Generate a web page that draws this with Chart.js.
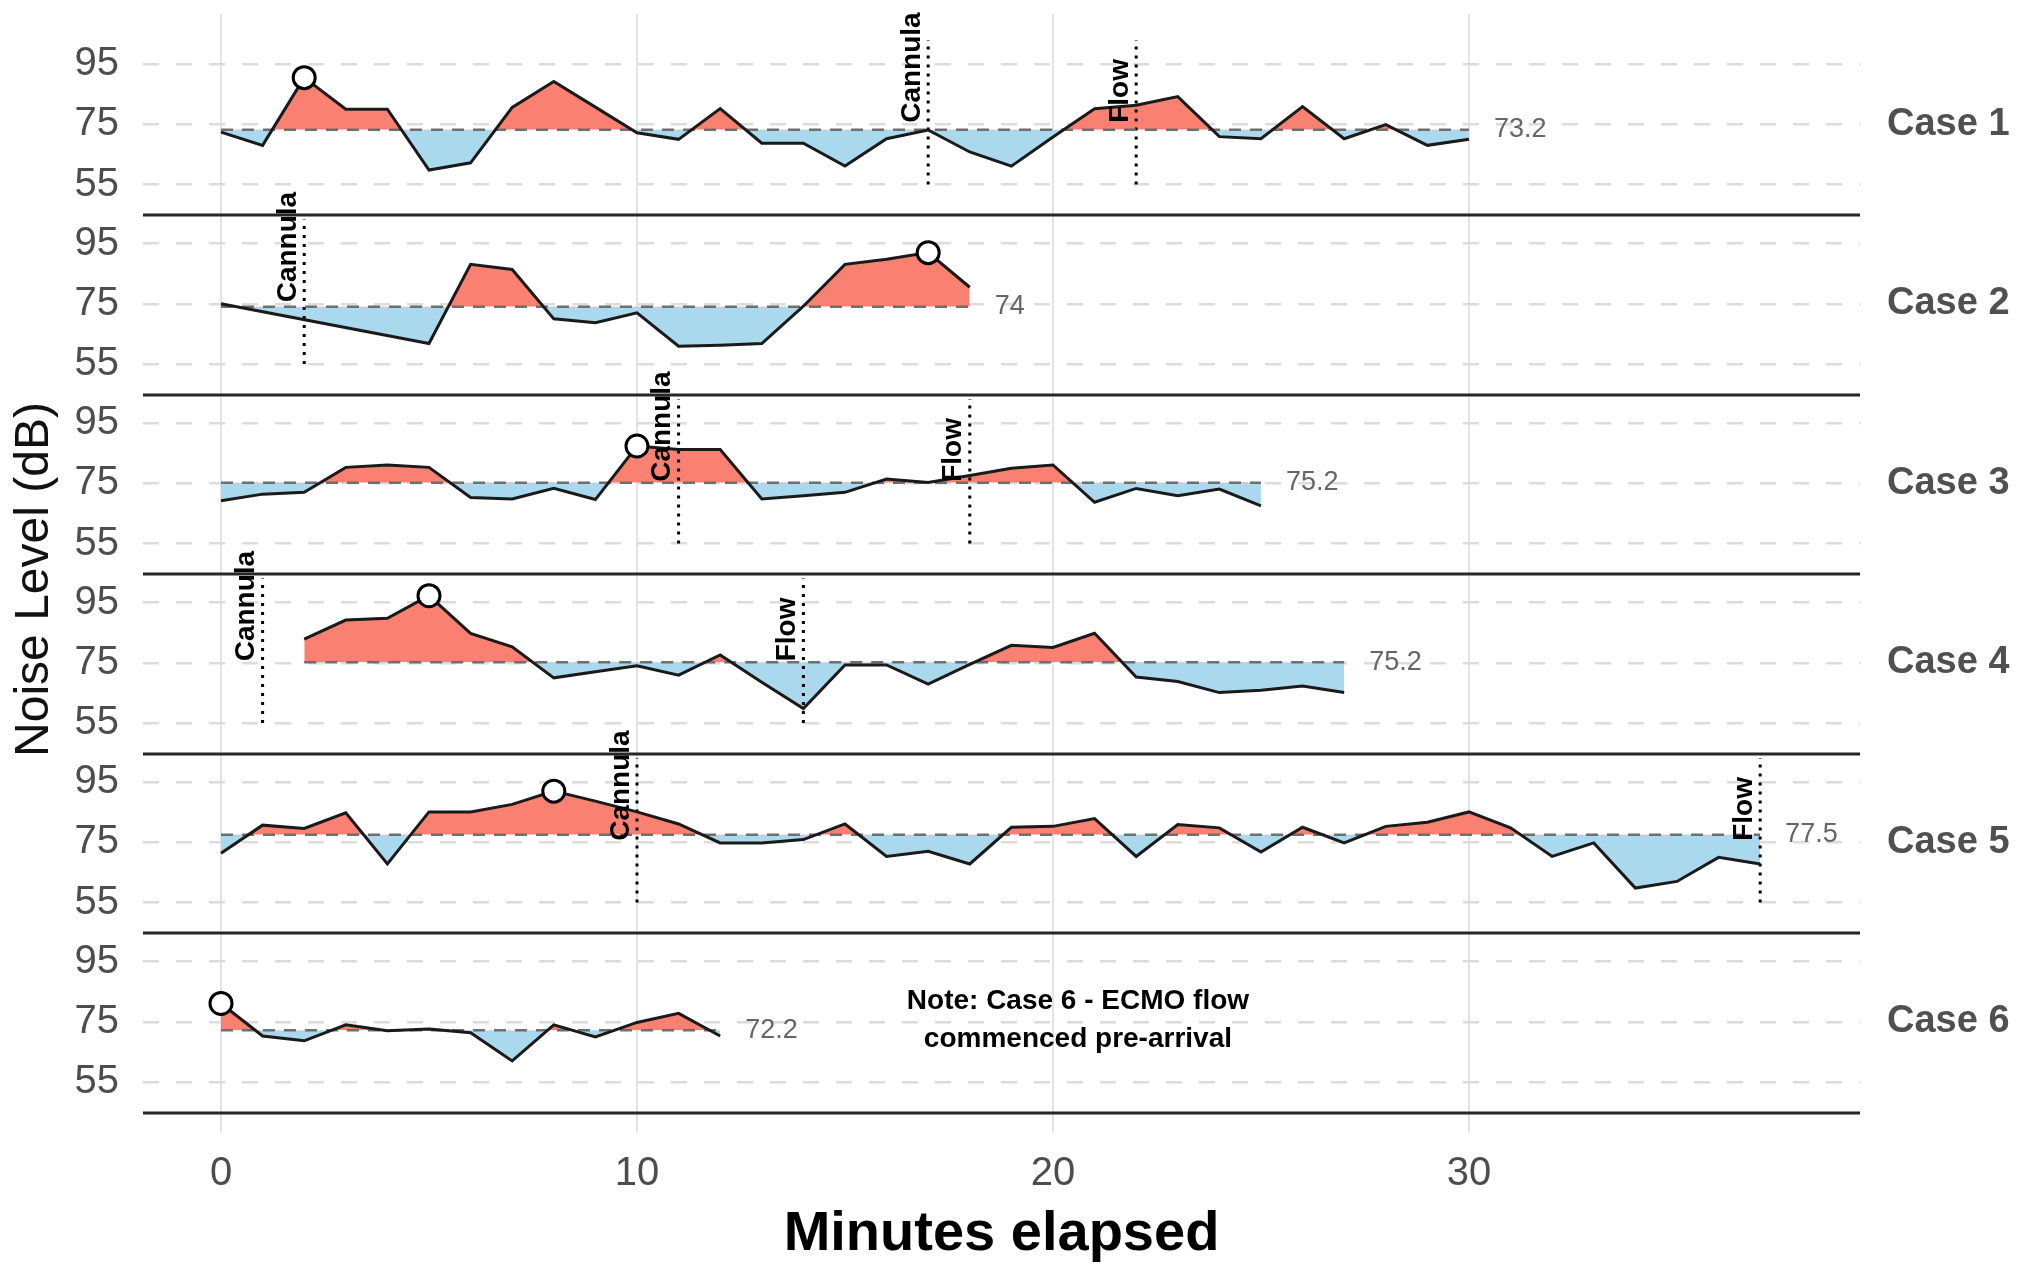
<!DOCTYPE html>
<html>
<head>
<meta charset="utf-8">
<title>Noise level by case</title>
<script src="https://cdn.jsdelivr.net/npm/chart.js@4.4.1/dist/chart.umd.min.js"></script>
<style>
  html, body { margin: 0; padding: 0; background: #fff; }
  #chart { display: block; }
</style>
</head>
<body>
<canvas id="chart" width="2024" height="1268"></canvas>
<script>
const caseNames = ["Case 1", "Case 2", "Case 3", "Case 4", "Case 5", "Case 6"];

const minutes1 = [0, 1, 2, 3, 4, 5, 6, 7, 8, 9, 10, 11, 12, 13, 14, 15, 16, 17, 18, 19, 20, 21, 22, 23, 24, 25, 26, 27, 28, 29, 30];
const noise1 = [72.4, 68.0, 90.5, 80.0, 80.0, 59.8, 62.2, 80.6, 89.2, 80.7, 72.2, 70.0, 80.2, 68.7, 68.7, 61.1, 70.2, 73.1, 65.8, 61.1, 70.8, 80.2, 81.3, 84.2, 70.9, 70.2, 80.9, 70.2, 74.9, 68.0, 70.0];

const minutes2 = [0, 5, 6, 7, 8, 9, 10, 11, 12, 13, 14, 15, 16, 17, 18];
const noise2 = [75.0, 61.8, 88.1, 86.4, 70.0, 68.7, 72.0, 60.9, 61.2, 61.8, 74.2, 88.1, 89.8, 92.0, 80.5];

const minutes3 = [0, 1, 2, 3, 4, 5, 6, 7, 8, 9, 10, 11, 12, 13, 14, 15, 16, 17, 18, 19, 20, 21, 22, 23, 24, 25];
const noise3 = [69.2, 71.4, 72.0, 80.3, 81.1, 80.3, 70.3, 69.8, 73.3, 69.6, 87.4, 86.2, 86.2, 69.8, 70.9, 72.0, 76.4, 75.3, 77.6, 80.0, 81.1, 68.7, 73.3, 70.9, 73.1, 67.5];

const minutes4 = [2, 3, 4, 5, 6, 7, 8, 9, 10, 11, 12, 13, 14, 15, 16, 17, 18, 19, 20, 21, 22, 23, 24, 25, 26, 27];
const noise4 = [82.9, 89.2, 89.8, 97.3, 84.8, 80.3, 70.0, 72.0, 74.0, 70.9, 77.6, 68.5, 59.8, 74.3, 74.3, 67.9, 74.5, 80.8, 80.1, 84.8, 70.3, 68.8, 65.1, 65.9, 67.3, 65.1];

const minutes5 = [0, 1, 2, 3, 4, 5, 6, 7, 8, 9, 10, 11, 12, 13, 14, 15, 16, 17, 18, 19, 20, 21, 22, 23, 24, 25, 26, 27, 28, 29, 30, 31, 32, 33, 34, 35, 36, 37];
const noise5 = [71.4, 80.7, 79.6, 84.8, 67.8, 85.1, 85.1, 87.6, 92.0, 88.7, 85.1, 81.1, 74.8, 74.8, 75.9, 81.1, 70.3, 72.0, 67.8, 80.0, 80.3, 82.9, 70.3, 80.9, 79.8, 71.8, 80.0, 74.8, 80.3, 81.7, 85.1, 79.8, 70.3, 74.8, 59.8, 62.0, 70.0, 67.8];

const minutes6 = [0, 1, 2, 3, 4, 5, 6, 7, 8, 9, 10, 11, 12];
const noise6 = [81.1, 70.3, 68.7, 74.0, 72.0, 72.6, 71.4, 62.0, 74.0, 70.0, 74.8, 77.8, 70.3];

const caseMinutes = [minutes1, minutes2, minutes3, minutes4, minutes5, minutes6];
const caseNoise = [noise1, noise2, noise3, noise4, noise5, noise6];
const caseMeans = [73.2, 74, 75.2, 75.2, 77.5, 72.2];
const peakMinute = [2, 17, 10, 5, 8, 0];

const eventCase = [1, 1, 2, 3, 3, 4, 4, 5, 5];
const eventMinute = [17, 22, 2, 11, 18, 1, 14, 10, 37];
const eventLabel = ["Cannula", "Flow", "Cannula", "Cannula", "Flow", "Cannula", "Flow", "Cannula", "Flow"];

const yTicks = [55, 75, 95];
const xTicks = [0, 10, 20, 30];
const noteLines = ["Note: Case 6 - ECMO flow", "commenced pre-arrival"];

const FONT = "'Liberation Sans', Arial, sans-serif";
const ABOVE = "rgb(250, 128, 114)";
const BELOW = "rgb(170, 216, 236)";
const Y_MIN = 44.7, Y_MAX = 104.35, Y_MAX_TOP = 111.65;

const datasets = [];
caseNoise.forEach((noise, i) => {
  const id = "c" + (i + 1);
  const mins = caseMinutes[i];
  datasets.push({
    data: mins.map((m, j) => ({ x: m, y: noise[j] })),
    yAxisID: id, xAxisID: "x",
    borderColor: "#1a1a1a", borderWidth: 3, pointRadius: 0, tension: 0, order: 2,
    fill: { target: { value: caseMeans[i] }, above: ABOVE, below: BELOW }
  });
  datasets.push({
    data: [{ x: mins[0], y: caseMeans[i] }, { x: mins[mins.length - 1], y: caseMeans[i] }],
    yAxisID: id, xAxisID: "x",
    borderColor: "#6e6e6e", borderWidth: 2.5, borderDash: [12, 9], pointRadius: 0, fill: false, order: 3
  });
  const pk = mins.indexOf(peakMinute[i]);
  datasets.push({
    data: [{ x: peakMinute[i], y: noise[pk] }],
    yAxisID: id, xAxisID: "x", showLine: false,
    pointRadius: 11, pointBackgroundColor: "#fff", pointBorderColor: "#000", pointBorderWidth: 3, order: 1
  });
});
eventMinute.forEach((m, k) => {
  datasets.push({
    data: [{ x: m, y: 55 }, { x: m, y: 103 }],
    yAxisID: "c" + eventCase[k], xAxisID: "x",
    borderColor: "#000", borderWidth: 3, borderDash: [3, 6], pointRadius: 0, fill: false, order: 4
  });
});

// top panel is a bit taller so the gridlines reach the top edge like the original
const panelMax = i => (i === 1 ? Y_MAX_TOP : Y_MAX);
const panelWeight = i => (panelMax(i) - Y_MIN) / (Y_MAX - Y_MIN);
const noPad = ax => { ax.paddingTop = 0; ax.paddingBottom = 0; };

const scales = {
  x: {
    type: "linear", position: "bottom", min: -1.875, max: 39.4,
    afterBuildTicks: ax => { ax.ticks = xTicks.map(v => ({ value: v })); },
    afterFit: ax => { ax.height = 155; },
    grid: { color: "#e3e3e3", lineWidth: 2, tickLength: 20 },
    border: { display: false },
    ticks: { font: { family: FONT, size: 40 }, color: "#4d4d4d", padding: 17 },
    title: { display: true, text: "Minutes elapsed", color: "#000",
      font: { family: FONT, size: 56, weight: "bold" }, padding: { top: 1, bottom: 0 } }
  }
};
for (let i = 6; i >= 1; i--) {
  scales["c" + i] = {
    type: "linear", position: "left", stack: "left", stackWeight: panelWeight(i), weight: 7 - i,
    min: Y_MIN, max: panelMax(i),
    afterBuildTicks: ax => { ax.ticks = yTicks.map(v => ({ value: v })); },
    afterFit: ax => { ax.width = 68.5; noPad(ax); },
    grid: { color: "#dcdcdc", lineWidth: 2.5, drawTicks: false },
    border: { display: false, dash: [16, 17] },
    ticks: { font: { family: FONT, size: 40 }, color: "#4d4d4d", padding: 24 }
  };
}
for (let i = 1; i <= 6; i++) {
  scales["r" + i] = {
    type: "linear", position: "right", stack: "right", stackWeight: panelWeight(i), weight: i,
    min: Y_MIN, max: panelMax(i),
    afterBuildTicks: ax => { ax.ticks = [{ value: 75 }]; },
    afterFit: ax => { ax.width = 149.5; noPad(ax); },
    grid: { display: false, drawTicks: false },
    border: { display: false },
    ticks: { font: { family: FONT, size: 38, weight: "bold" }, color: "#505050", padding: 27,
      callback: () => caseNames[i - 1] }
  };
}

const annotate = {
  id: "annotate",
  afterDatasetsDraw(chart) {
    const { ctx, chartArea, scales: s } = chart;
    const x = s.x;
    ctx.save();

    // panel bottom lines
    ctx.strokeStyle = "#262626";
    ctx.lineWidth = 3;
    for (let i = 1; i <= 6; i++) {
      const y = Math.round(s["c" + i].bottom);
      ctx.beginPath();
      ctx.moveTo(chartArea.left, y);
      ctx.lineTo(chartArea.right, y);
      ctx.stroke();
    }

    // mean value labels
    ctx.font = "27px " + FONT;
    ctx.fillStyle = "#666";
    ctx.textAlign = "left";
    ctx.textBaseline = "middle";
    caseMeans.forEach((m, i) => {
      const mins = caseMinutes[i];
      ctx.fillText(String(m), x.getPixelForValue(mins[mins.length - 1] + 0.6), s["c" + (i + 1)].getPixelForValue(m));
    });

    // event labels
    ctx.font = "bold 28px " + FONT;
    ctx.fillStyle = "#000";
    eventMinute.forEach((m, k) => {
      ctx.save();
      ctx.translate(x.getPixelForValue(m) - 2, s["c" + eventCase[k]].getPixelForValue(75.5));
      ctx.rotate(-Math.PI / 2);
      ctx.textAlign = "left";
      ctx.textBaseline = "bottom";
      ctx.fillText(eventLabel[k], 0, 0);
      ctx.restore();
    });

    // note in case 6
    ctx.textAlign = "center";
    ctx.textBaseline = "middle";
    const ny = s.c6.getPixelForValue(75.5);
    ctx.fillText(noteLines[0], x.getPixelForValue(20.6), ny - 19);
    ctx.fillText(noteLines[1], x.getPixelForValue(20.6), ny + 19);

    // y title
    ctx.font = "48px " + FONT;
    ctx.fillStyle = "#111";
    ctx.translate(35, (chartArea.top + chartArea.bottom) / 2 + 16);
    ctx.rotate(-Math.PI / 2);
    ctx.fillText("Noise Level (dB)", 0, 0);
    ctx.restore();
  }
};

new Chart(document.getElementById("chart"), {
  type: "line",
  data: { datasets },
  options: {
    responsive: false,
    devicePixelRatio: 1,
    animation: false,
    layout: { padding: { left: 74.5, right: 14.5, top: 13, bottom: 0 } },
    scales,
    plugins: {
      legend: { display: false },
      tooltip: { enabled: false },
      filler: { drawTime: "beforeDatasetsDraw", propagate: false }
    }
  },
  plugins: [annotate]
});
</script>
</body>
</html>
